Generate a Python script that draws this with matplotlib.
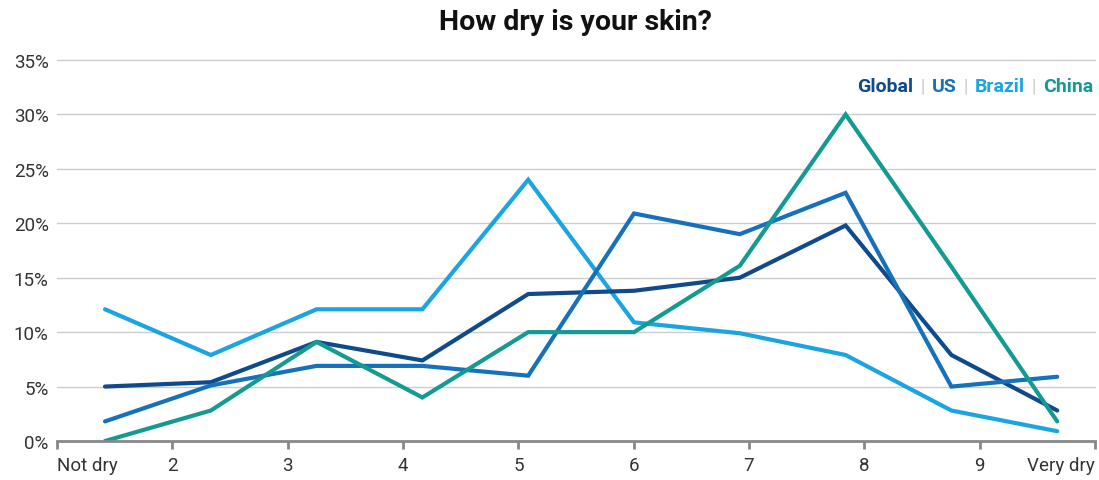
import numpy as np
import matplotlib
matplotlib.use("Agg")
import matplotlib.pyplot as plt
from matplotlib.offsetbox import TextArea, HPacker, AnchoredOffsetbox

categories = ["Not dry", "2", "3", "4", "5", "6", "7", "8", "9", "Very dry"]
global_vals = [5.0, 5.4, 9.1, 7.4, 13.5, 13.8, 15.0, 19.8, 7.9, 2.8]
us_vals = [1.8, 5.1, 6.9, 6.9, 6.0, 20.9, 19.0, 22.8, 5.0, 5.9]
brazil_vals = [12.1, 7.9, 12.1, 12.1, 24.0, 10.9, 9.9, 7.9, 2.8, 0.9]
china_vals = [0.0, 2.8, 9.1, 4.0, 10.0, 10.0, 16.1, 30.0, 16.0, 1.8]
series_names = ["Global", "US", "Brazil", "China"]
y_ticks = [0, 5, 10, 15, 20, 25, 30, 35]

colors = {"Global": "#0f4a8c", "US": "#1771ba", "Brazil": "#1ba4e2", "China": "#149a91"}
series = {"Global": global_vals, "US": us_vals, "Brazil": brazil_vals, "China": china_vals}

plt.rcParams['font.family'] = ['Roboto', 'DejaVu Sans']

fig = plt.figure(figsize=(10.99, 4.81), dpi=100)
ax = fig.add_axes([57/1099, 1-442/481, (1095-57)/1099, (442-61)/481])

x = np.arange(len(categories))
xlim = ((57-105)/105.8, (1095-105)/105.8)
ax.set_xlim(*xlim)
ax.set_ylim(0, 35)

for yt in y_ticks[1:]:
    ax.axhline(yt, color="#cccccc", lw=1.0, zorder=1, clip_on=False)

order = ["Brazil", "Global", "US", "China"]
for name in order:
    ax.plot(x, series[name], color=colors[name], lw=3.0, solid_capstyle="round",
            solid_joinstyle="miter", zorder=3, clip_on=True)

for s in ["top", "right", "left"]:
    ax.spines[s].set_visible(False)
ax.spines["bottom"].set_color("#888888")
ax.spines["bottom"].set_linewidth(2.0)
ax.spines["bottom"].set_zorder(4)

ticks = np.linspace(xlim[0], xlim[1], len(categories))
ax.set_xticks(ticks)
ax.set_xticklabels(categories)
labels = ax.get_xticklabels()
labels[0].set_horizontalalignment("left")
labels[-1].set_horizontalalignment("right")
ax.tick_params(axis="x", length=6, width=2, color="#888888", labelsize=13.5,
               labelcolor="#333333", pad=5)

ax.set_yticks(y_ticks)
ax.set_yticklabels([f"{v}%" for v in y_ticks])
ax.tick_params(axis="y", length=0, labelsize=13.5, labelcolor="#333333", pad=6)

fig.text(575/1099, 1-22/481, "How dry is your skin?", ha="center", va="center",
         fontsize=20.5, fontweight="bold", color="#111111")

parts = []
for i, name in enumerate(series_names):
    parts.append(TextArea(name, textprops=dict(color=colors[name], fontsize=14, fontweight="bold")))
    if i < len(series_names) - 1:
        parts.append(TextArea("|", textprops=dict(color="#c4c4c4", fontsize=13)))
box = HPacker(children=parts, align="baseline", pad=0, sep=5)
anch = AnchoredOffsetbox(loc="center right", child=box, frameon=False,
                         bbox_to_anchor=(1093/1099, 1-87/481), bbox_transform=fig.transFigure,
                         borderpad=0, pad=0)
fig.add_artist(anch)

fig.savefig("out.png", dpi=100)
